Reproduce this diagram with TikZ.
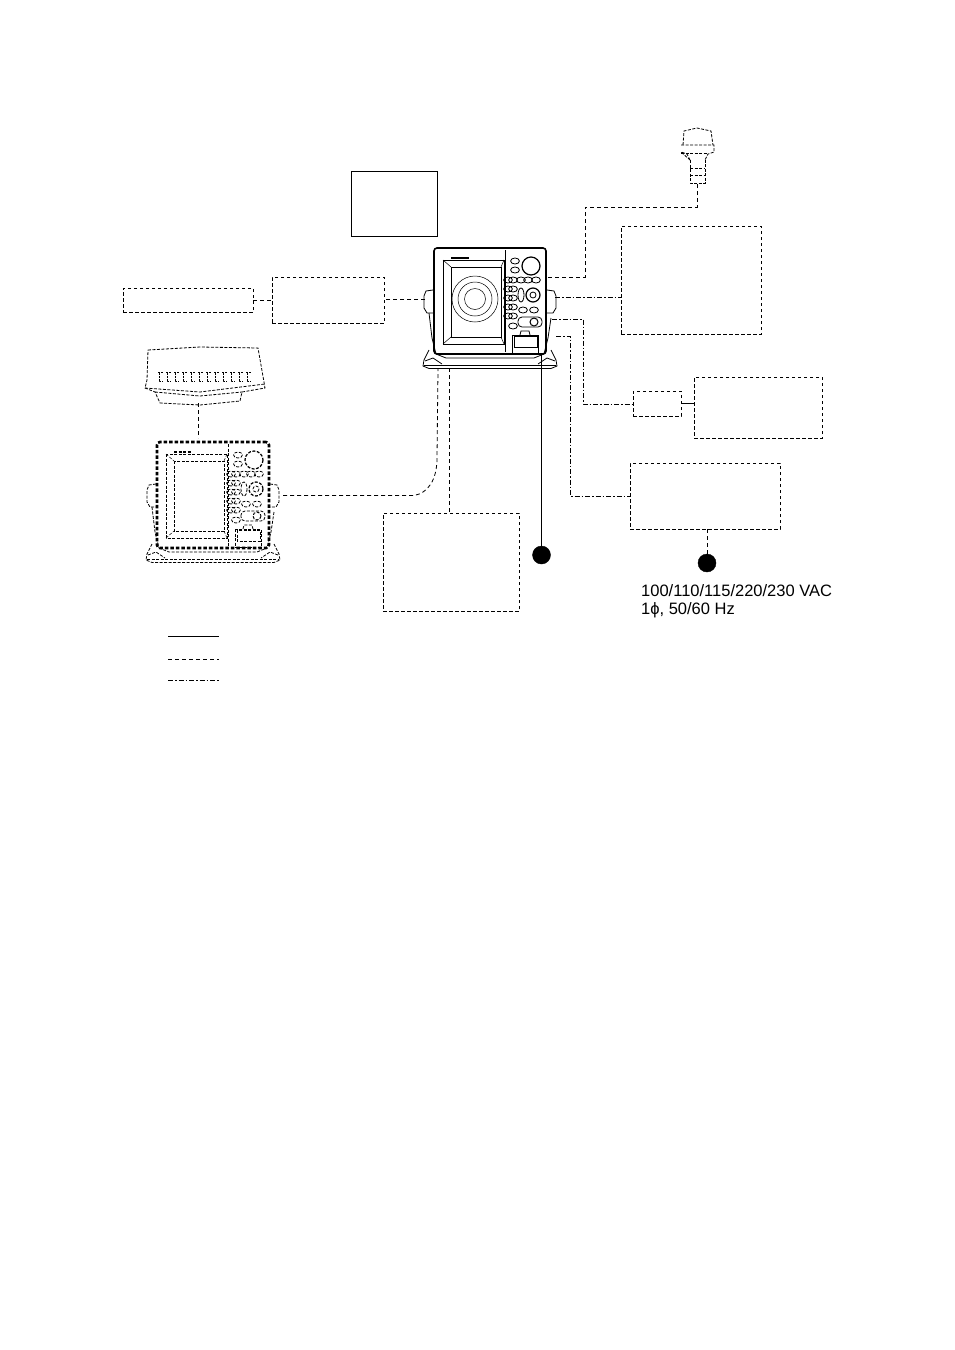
\documentclass[tikz,border=0pt]{standalone}
\usepackage{fontspec}
\setmainfont{Liberation Sans}
\usepackage{xcolor}
\usetikzlibrary{positioning}
\tikzstyle{solidbox}=[rectangle,draw,line width=0.9pt,inner sep=0pt]
\tikzstyle{dashbox}=[rectangle,draw,line width=0.8pt,dash pattern=on 3.5pt off 2.5pt,inner sep=0pt]
\tikzstyle{blob}=[circle,fill=black,draw,minimum size=18pt,inner sep=0pt]
\tikzstyle{edge} = [draw,line width=0.9pt]
\tikzstyle{dashedge} = [draw,line width=0.8pt,dash pattern=on 4pt off 3pt]
\tikzstyle{dotedge} = [draw,line width=0.8pt,dash pattern=on 5pt off 2pt on 1.5pt off 2pt]
\tikzstyle{powertext} = [font=\fontsize{16.5}{19}\selectfont,anchor=west,inner sep=0pt]
% face of the unit: #1 shift x, #2 shift y, #3 line style, #4 body style
\newcommand{\unitface}[4]{
 \begin{scope}[shift={(#1,#2)},line width=0.8pt,#3]
  % brackets and stand
  \draw (433,290) -- (426,291) -- (424,296) -- (424,308) -- (427,313) -- (433,313);
  \draw (547,290) -- (554,291) -- (556,296) -- (556,308) -- (553,313) -- (547,313);
  \draw (429,313) -- (432,338) -- (436,354);
  \draw (551,318) -- (548,338) -- (544,354);
  \draw (429,350) -- (424,360) -- (423,366) -- (429,368.5) -- (551,368.5) -- (557,366) -- (556,360) -- (551,350);
  \draw (436,354) -- (446,358) -- (534,358) -- (544,354);
  \draw (424,365) -- (556,365);
  \draw (425,361) -- (433,358) -- (442,364) (555,361) -- (547,358) -- (538,364);
  % screen
  \draw[line width=0.5pt] (443,260) rectangle (504,344);
  \draw (451,267) rectangle (501,337);
  \foreach \a/\b/\c/\d in {443/260/451/267, 504/260/501/267, 504/344/501/337, 443/344/451/337}
    \draw[line width=0.5pt] (\a,\b) -- (\c,\d);
  % keys
  \draw[line width=0.5pt] (505,250) -- (505,352);
  \draw[line width=1.2pt] (531,266) circle (9);
  \foreach \x/\y in {515/261, 515/270, 508/280, 513/280, 521/280, 528/280, 536/280, 508/289, 513/289, 508/298, 513/298,
                     508/307, 513/307, 508/316, 513/316, 523/310, 534/310, 513/326}
    \draw (\x,\y) ellipse (4.4 and 3);
  \draw (521,295) ellipse (3 and 7);
  \draw[line width=1.2pt] (533,295) circle (7);
  \draw (533,295) circle (3);
  \draw[rounded corners=4pt] (518,317) rectangle (542,327);
  \draw[line width=1pt] (534,322) circle (4);
  % drawer
  \draw (512,335) rectangle (538,353);
  \draw (514,336) rectangle (537,347);
  \draw (520,335) -- (521,331) -- (529,331) -- (530,335);
  \draw[line width=1.3pt] (451,258) -- (469,258);
  \node[rectangle,draw,#4,rounded corners=3pt,minimum width=112pt,minimum height=106pt,inner sep=0pt] at (490,301) {};
 \end{scope}
}

\begin{document}
\begin{tikzpicture}[x=1pt,y=-1pt]
 \useasboundingbox (0,0) rectangle (954,1350);

 %Boxes
 \foreach \x/\y/\w/\h/\name/\kind in {394/203.5/86/65/memobox/solidbox, 188/300/130/24/printerbox/dashbox,
      328/300/112/46/adapterbox/dashbox, 691/280/140/108/sensorbox/dashbox, 657/403.5/48/25/rectbox/dashbox,
      758/407.5/128/61/batterybox/dashbox, 705/496/150/66/supplybox/dashbox, 451/562/136/98/navbox/dashbox}
   \node[\kind,minimum width=\w pt,minimum height=\h pt] (\name) at (\x,\y) {};

 %Main unit
 \unitface{0}{0}{}{line width=1.6pt}
 \node[circle,draw,line width=0.5pt,minimum size=46pt,inner sep=0pt] (ringa) at (475,299) {};
 \node[circle,draw,line width=0.5pt,minimum size=34pt,inner sep=0pt] (ringb) at (475,299) {};
 \node[circle,draw,line width=0.5pt,minimum size=21pt,inner sep=0pt] (ringc) at (475,299) {};

 %Second unit
 \unitface{-277}{194}{dash pattern=on 3pt off 1.5pt}{line width=2.6pt,dash pattern=on 3.5pt off 2pt}

 %Radar antenna
 \begin{scope}[line width=0.8pt,dash pattern=on 3pt off 1.5pt]
  \draw (148,350) -- (200,347) -- (258,348) -- (264,382) -- (265,388) -- (242,392) -- (240,401) -- (200,405) -- (160,403) -- (155,392) -- (145,388) -- (147,380) -- cycle;
  \draw (145,388) -- (200,392) -- (265,384);
  \draw (155,392) -- (200,396) -- (242,392);
  \foreach \x in {158,166,...,246}
    \draw[line width=1pt,dash pattern=on 2pt off 1pt] (\x,372.5) -- (\x+5,372.5) (\x+1,372.5) -- (\x+1,381.5) -- (\x+5,381.5);
 \end{scope}

 %GPS antenna
 \begin{scope}[line width=0.8pt,dash pattern=on 3pt off 1.5pt]
  \draw (683,145) -- (684,131) -- (697,128) -- (711,131) -- (713,145);
  \draw (681,145) -- (714,145) -- (714,152) -- (708,154) -- (705,160) (690,160) -- (687,154) -- (681,152) -- cycle;
  \draw (681,153.5) -- (708,153.5);
  \draw[line width=0.9pt] (690,160) -- (690,183) -- (705,183) -- (705,160);
  \draw[line width=0.9pt] (690,168) -- (705,168) (690,175) -- (705,175);
 \end{scope}
 \coordinate (gpsfoot) at (697,183);

 %Ports
 \foreach \x/\y/\name in {425/299/portleft, 548/277/portgps, 555/297/portsensor, 552/319/portrect, 556/336/portsupply,
      541.5/354/portblob, 449/368/portnav, 438/369/portcable, 198/403/radarfoot, 198/438/sparetop, 283/495.5/sparerim}
   \coordinate (\name) at (\x,\y);

 \node[blob] (blobleft) at (541.5,555) {};
 \node[blob] (blobright) at (707,563) {};

 %Connectors
 \path[dashedge] (printerbox.east) -- (adapterbox.west |- printerbox.east);
 \path[dashedge] (portleft) -- (adapterbox.east |- portleft);
 \path[dashedge] (portgps) -| (585,207) -| (gpsfoot);
 \path[dotedge] (portsensor) -- (sensorbox.west |- portsensor);
 \path[dotedge] (portrect) -| (583,404) -- (rectbox.west |- 583,404);
 \path[edge] (rectbox.east) -- (batterybox.west |- rectbox.east);
 \path[dotedge] (portsupply) -| (570,496) -- (supplybox.west);
 \path[dashedge] (supplybox.south -| blobright) -- (blobright);
 \path[edge] (portblob) -- (blobleft);
 \path[dashedge] (portnav) -- (portnav |- navbox.north);
 \path[dashedge] (radarfoot) -- (sparetop);
 \path[dashedge] (sparerim) -- (414,495.5) .. controls (428,493) and (437,480) .. (437,458) -- (portcable);

 %Power
 \node[powertext] (powera) at (641,591) {100/110/115/220/230 VAC};
 \node[powertext] (powerb) at (641,610) {1ϕ, 50/60 Hz};

 %Legend
 \foreach \y/\name/\kind in {636/a/edge, 659/b/dashedge, 680/c/dotedge}{
   \coordinate (key\name l) at (168,\y);
   \coordinate (key\name r) at (219,\y);
   \path[\kind] (key\name l) -- (key\name r);
 }
\end{tikzpicture}
\end{document}
